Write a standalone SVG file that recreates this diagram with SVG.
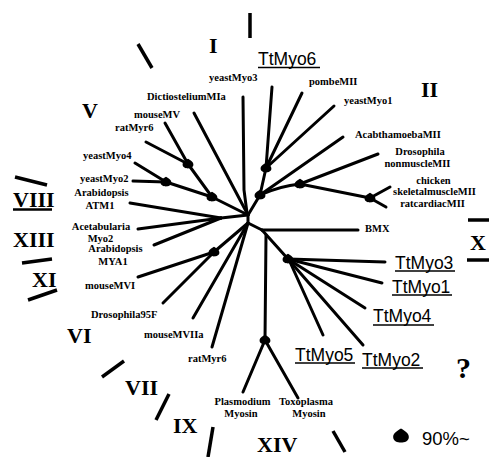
<svg xmlns="http://www.w3.org/2000/svg" xmlns:xlink="http://www.w3.org/1999/xlink" width="489" height="457" viewBox="0 0 489 457">
  <style>
    .br { stroke: #000; stroke-width: 3; stroke-linecap: round; fill: none; }
    .tick { stroke: #000; stroke-width: 3.5; stroke-linecap: butt; fill: none; }
    .sp { font-family: "Liberation Serif", "Times New Roman", serif; font-weight: bold; font-size: 10.5px; fill: #000; }
    .mid { text-anchor: middle; }
    .tt { font-family: "Liberation Sans", Arial, sans-serif; font-size: 17.5px; fill: #000; }
    .ul { stroke: #000; stroke-width: 1.6; }
    .cl { font-family: "Liberation Serif", "Times New Roman", serif; font-weight: bold; font-size: 22px; fill: #000; }
  </style>
  <defs>
    <!-- bootstrap support blob -->
    <path id="boot" d="M0,-5.2 C2.5,-3.6 5.6,-2 5.4,0.8 C5.2,3.6 2.5,4.4 0,4.4 C-2.5,4.4 -5.2,3.6 -5.4,0.8 C-5.6,-2 -2.5,-3.6 0,-5.2 Z" fill="#000"/>
  </defs>
  <rect width="489" height="457" fill="#fff"/>

  <!-- tree branches -->
  <g id="connectors">
    <!-- class I / II side -->
    <path class="br" d="M272,87 L266,168"/>
    <path class="br" d="M302,93 L266,168"/>
    <path class="br" d="M334,106 L266,168"/>
    <path class="br" d="M266,168 L260,195"/>
    <path class="br" d="M343,137 L260,195"/>
    <path class="br" d="M260,195 Q280,186 300,184"/>
    <path class="br" d="M378,154 L300,184"/>
    <path class="br" d="M300,184 L370,198"/>
    <path class="br" d="M390,187 L370,198"/>
    <path class="br" d="M386,207 L370,198"/>
    <path class="br" d="M260,195 L248,215"/>
    <!-- yeastMyo3, Dictiostelium -->
    <path class="br" d="M243,97 L244,190 L247,213"/>
    <path class="br" d="M194,113 L248,215"/>
    <!-- class V -->
    <path class="br" d="M165,123 L188,164"/>
    <path class="br" d="M146,142 L188,164"/>
    <path class="br" d="M188,164 L212,197"/>
    <path class="br" d="M135,163 L166,182"/>
    <path class="br" d="M133,181 L166,182"/>
    <path class="br" d="M166,182 L212,197"/>
    <path class="br" d="M212,197 L248,215"/>
    <!-- plant myosins -->
    <path class="br" d="M130,203 L221,218"/>
    <path class="br" d="M138,229 L221,218"/>
    <path class="br" d="M154,245 L221,218"/>
    <path class="br" d="M221,218 L248,215"/>
    <!-- stem below the hub -->
    <path class="br" d="M248,215 L248,223"/>
    <!-- class VI / VII -->
    <path class="br" d="M138,277 L214,252"/>
    <path class="br" d="M163,303 L214,252"/>
    <path class="br" d="M214,252 L248,223"/>
    <path class="br" d="M193,318 L248,223"/>
    <path class="br" d="M212,347 L248,223"/>
    <!-- BMX and Tetrahymena cluster -->
    <path class="br" d="M248,223 L262,230"/>
    <path class="br" d="M262,230 L358,230"/>
    <path class="br" d="M262,230 L288,259"/>
    <path class="br" d="M288,259 L385,262"/>
    <path class="br" d="M288,259 L382,283"/>
    <path class="br" d="M288,259 L365,308"/>
    <path class="br" d="M288,259 L363,345"/>
    <path class="br" d="M290,262 L323,335"/>
    <!-- class XIV -->
    <path class="br" d="M266,235 L265,340"/>
    <path class="br" d="M265,340 L243,392"/>
    <path class="br" d="M265,340 L298,398"/>

    <!-- support markers -->
    <use xlink:href="#boot" x="260" y="195"/>
    <use xlink:href="#boot" x="266" y="168"/>
    <use xlink:href="#boot" x="300" y="184"/>
    <use xlink:href="#boot" x="370" y="198"/>
    <use xlink:href="#boot" x="212" y="197"/>
    <use xlink:href="#boot" x="188" y="164"/>
    <use xlink:href="#boot" x="166" y="182"/>
    <use xlink:href="#boot" x="214" y="252"/>
    <use xlink:href="#boot" x="288" y="259"/>
    <use xlink:href="#boot" x="265" y="340"/>
  </g>

  <!-- clade dividers -->
  <g id="dividers">
    <line class="tick" x1="138" y1="44" x2="152" y2="68"/>
    <line class="tick" x1="250" y1="13" x2="250" y2="38"/>
    <line class="tick" x1="468" y1="220" x2="489" y2="220"/>
    <line class="tick" x1="467" y1="260" x2="489" y2="260"/>
    <line class="tick" x1="15" y1="177" x2="47" y2="185"/>
    <line class="tick" x1="13" y1="209.5" x2="52" y2="209.5" style="stroke-width:2.5"/>
    <line class="tick" x1="22" y1="263" x2="52" y2="259"/>
    <line class="tick" x1="28" y1="300" x2="57" y2="290"/>
    <line class="tick" x1="102" y1="377" x2="124" y2="361"/>
    <line class="tick" x1="156" y1="420" x2="169" y2="394"/>
    <line class="tick" x1="208" y1="457" x2="213" y2="427"/>
    <line class="tick" x1="333" y1="431" x2="345" y2="452"/>
  </g>

  <!-- class numerals -->
  <g id="classes">
    <text class="cl" x="209" y="53">I</text>
    <text class="cl" x="421" y="97">II</text>
    <text class="cl" x="82" y="118">V</text>
    <text class="cl" x="13" y="207">VIII</text>
    <text class="cl" x="13" y="247">XIII</text>
    <text class="cl" x="32" y="287">XI</text>
    <text class="cl" x="67" y="343">VI</text>
    <text class="cl" x="125" y="395">VII</text>
    <text class="cl" x="173" y="433">IX</text>
    <text class="cl" x="257" y="451.5">XIV</text>
    <text class="cl" x="470" y="250">X</text>
    <text class="cl" x="456" y="378" style="font-size:30px">?</text>
  </g>

  <!-- species labels -->
  <g id="yeastMyo3"><text class="sp" x="209" y="81">yeastMyo3</text></g>
  <g id="DictiosteliumMIa"><text class="sp" x="147" y="100">DictiosteliumMIa</text></g>
  <g id="mouseMV"><text class="sp" x="134" y="118">mouseMV</text></g>
  <g id="ratMyr6-V"><text class="sp" x="115" y="131">ratMyr6</text></g>
  <g id="yeastMyo4"><text class="sp" x="83" y="159">yeastMyo4</text></g>
  <g id="yeastMyo2"><text class="sp" x="80" y="182">yeastMyo2</text></g>
  <g id="ArabidopsisATM1">
    <text class="sp mid" x="101.5" y="196">Arabidopsis</text>
    <text class="sp mid" x="100" y="209">ATM1</text>
  </g>
  <g id="AcetabulariaMyo2">
    <text class="sp mid" x="101" y="230">Acetabularia</text>
    <text class="sp mid" x="100.5" y="242">Myo2</text>
  </g>
  <g id="ArabidopsisMYA1">
    <text class="sp mid" x="115.5" y="252">Arabidopsis</text>
    <text class="sp mid" x="113" y="265">MYA1</text>
  </g>
  <g id="mouseMVI"><text class="sp" x="85" y="289">mouseMVI</text></g>
  <g id="Drosophila95F"><text class="sp" x="91" y="318">Drosophila95F</text></g>
  <g id="mouseMVIIa"><text class="sp" x="144" y="338">mouseMVIIa</text></g>
  <g id="ratMyr6-VII"><text class="sp" x="188" y="362">ratMyr6</text></g>
  <g id="PlasmodiumMyosin">
    <text class="sp mid" x="242.5" y="405">Plasmodium</text>
    <text class="sp mid" x="241" y="417">Myosin</text>
  </g>
  <g id="ToxoplasmaMyosin">
    <text class="sp mid" x="306" y="405">Toxoplasma</text>
    <text class="sp mid" x="309" y="417">Myosin</text>
  </g>
  <g id="pombeMII"><text class="sp" x="309" y="85">pombeMII</text></g>
  <g id="yeastMyo1"><text class="sp" x="344" y="104">yeastMyo1</text></g>
  <g id="AcabthamoebaMII"><text class="sp" x="355" y="138">AcabthamoebaMII</text></g>
  <g id="DrosophilaNonmuscleMII">
    <text class="sp mid" x="420" y="155">Drosophila</text>
    <text class="sp mid" x="417.5" y="167">nonmuscleMII</text>
  </g>
  <g id="chickenSkeletalmuscleMII">
    <text class="sp mid" x="433.5" y="184">chicken</text>
    <text class="sp mid" x="434.5" y="195">skeletalmuscleMII</text>
  </g>
  <g id="ratcardiacMII"><text class="sp mid" x="432.5" y="207">ratcardiacMII</text></g>
  <g id="BMX"><text class="sp" x="365" y="232">BMX</text></g>

  <!-- Tetrahymena myosins -->
  <g id="TtMyo6"><text class="tt" x="258" y="65">TtMyo6</text><line class="ul" x1="258" y1="67.5" x2="320" y2="67.5"/></g>
  <g id="TtMyo3"><text class="tt" x="395" y="268.5">TtMyo3</text><line class="ul" x1="395" y1="271" x2="455" y2="271"/></g>
  <g id="TtMyo1"><text class="tt" x="392" y="292.5">TtMyo1</text><line class="ul" x1="392" y1="295" x2="452" y2="295"/></g>
  <g id="TtMyo4"><text class="tt" x="373" y="322">TtMyo4</text><line class="ul" x1="373" y1="325" x2="434" y2="325"/></g>
  <g id="TtMyo5"><text class="tt" x="295" y="360.5">TtMyo5</text><line class="ul" x1="295" y1="363" x2="355" y2="363"/></g>
  <g id="TtMyo2"><text class="tt" x="362" y="365.5">TtMyo2</text><line class="ul" x1="362" y1="368" x2="423" y2="368"/></g>

  <!-- legend -->
  <g id="legend">
    <use xlink:href="#boot" transform="translate(401,436) scale(1.45)"/>
    <text class="tt" x="422" y="445" style="font-size:18.5px">90%~</text>
  </g>
</svg>
